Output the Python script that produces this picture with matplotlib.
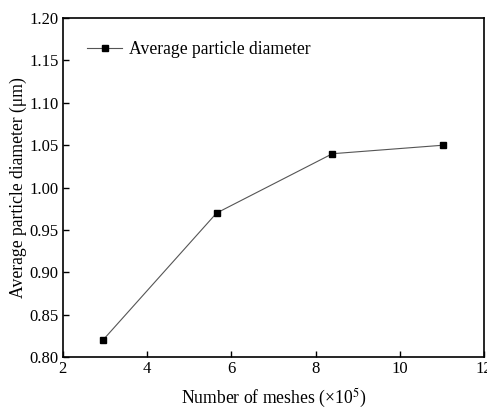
import matplotlib
matplotlib.use("Agg")
import matplotlib.pyplot as plt

# mesh counts (x10^5) and resulting mean particle diameter (um)
meshes = [2.95, 5.65, 8.4, 11.02]
diameter = [0.82, 0.97, 1.04, 1.05]

plt.rcParams["font.family"] = ["Liberation Serif", "DejaVu Serif"]
plt.rcParams["mathtext.fontset"] = "stix"

fig = plt.figure(figsize=(4.87, 4.11), dpi=100)
ax = fig.add_axes([0.129, 0.131, 0.865, 0.825])

ax.plot(meshes, diameter, color="#555555", linewidth=0.8,
        marker="s", markersize=5, markerfacecolor="black",
        markeredgecolor="black", label="Average particle diameter")

ax.set_xlim(2, 12)
ax.set_ylim(0.80, 1.20)
ax.set_xticks([2, 4, 6, 8, 10, 12])
ax.set_yticks([0.80, 0.85, 0.90, 0.95, 1.00, 1.05, 1.10, 1.15, 1.20])
ax.yaxis.set_major_formatter(matplotlib.ticker.FormatStrFormatter("%.2f"))
ax.tick_params(direction="in", length=4, width=1, labelsize=12, pad=3)
for s in ax.spines.values():
    s.set_linewidth(1.2)

ax.set_xlabel("Number of meshes (×10$^5$)", fontsize=12.7, labelpad=7)
ax.set_ylabel("Average particle diameter (μm)", fontsize=12.7, labelpad=2)

ax.legend(loc="upper left", frameon=False, fontsize=12.7,
          bbox_to_anchor=(0.02, 0.98), handlelength=2.0, handletextpad=0.4)

fig.savefig("out.png", dpi=100)
